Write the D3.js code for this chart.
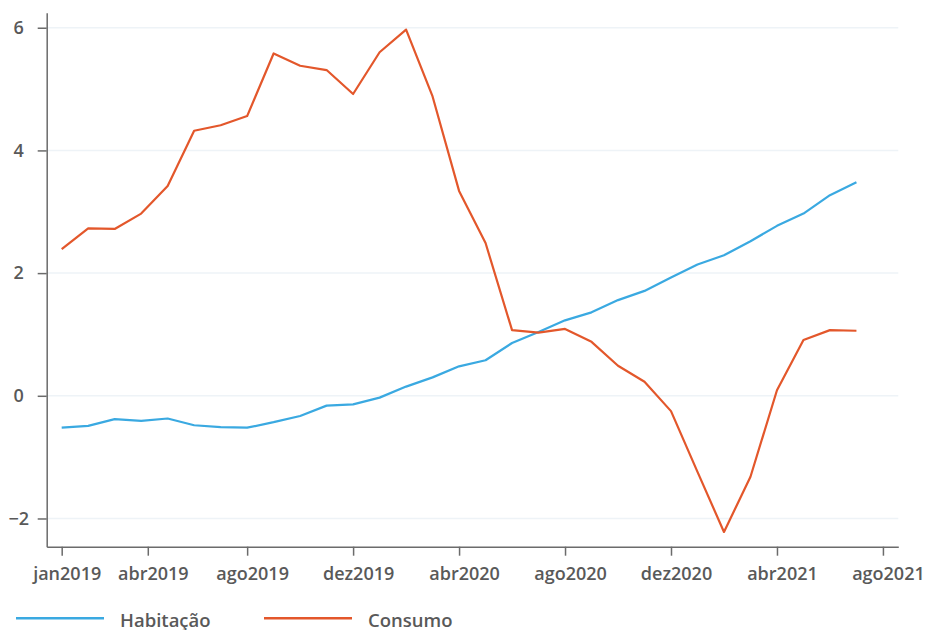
<!DOCTYPE html>
<html lang="pt">
<head>
<meta charset="utf-8">
<script src="https://cdn.jsdelivr.net/npm/d3@7"></script>
<style>
  html, body { margin: 0; padding: 0; background: #fff; }
  svg { display: block; font-family: "Open Sans", sans-serif; }
</style>
</head>
<body>
<svg id="chart" width="927" height="630"></svg>
<script>
// Monthly series, jan2019 .. jul2021
const months = [
  "jan2019","fev2019","mar2019","abr2019","mai2019","jun2019","jul2019","ago2019",
  "set2019","out2019","nov2019","dez2019","jan2020","fev2020","mar2020","abr2020",
  "mai2020","jun2020","jul2020","ago2020","set2020","out2020","nov2020","dez2020",
  "jan2021","fev2021","mar2021","abr2021","mai2021","jun2021","jul2021"
];
const habitacao = [
  -0.52, -0.49, -0.38, -0.41, -0.37, -0.48, -0.51, -0.52,
  -0.43, -0.33, -0.16, -0.14, -0.03, 0.15, 0.30, 0.48,
  0.58, 0.86, 1.04, 1.23, 1.36, 1.56, 1.71, 1.93,
  2.14, 2.29, 2.52, 2.77, 2.97, 3.27, 3.48
];
const consumo = [
  2.39, 2.73, 2.72, 2.97, 3.42, 4.32, 4.41, 4.56,
  5.58, 5.38, 5.31, 4.92, 5.60, 5.97, 4.88, 3.34,
  2.49, 1.07, 1.03, 1.09, 0.88, 0.49, 0.23, -0.25,
  -1.24, -2.22, -1.32, 0.09, 0.91, 1.07, 1.06
];
// tick positions in month-index units (0 = jan2019)
const xTickIndex = [0, 3.25, 7, 11, 15, 19, 23, 27, 31];
const xTickLabels = ["jan2019","abr2019","ago2019","dez2019","abr2020","ago2020","dez2020","abr2021","ago2021"];
const yTicks = [-2, 0, 2, 4, 6];
const seriesNames = ["Habitação", "Consumo"];
const seriesColors = ["#3aa9e1", "#e3572b"];

const svg = d3.select("#chart");
const plotLeft = 46.7, plotRight = 898.3, plotTop = 12.7, plotBottom = 546.7;

const x = d3.scaleLinear().domain([-0.566, 31.58]).range([plotLeft, plotRight]);
const y = d3.scaleLinear().domain([-2.46, 6.245]).range([plotBottom, plotTop]);

const textColor = "#595959";
const axisColor = "#6b6b6b";

// horizontal gridlines
svg.append("g")
  .selectAll("line")
  .data(yTicks)
  .join("line")
  .attr("x1", plotLeft).attr("x2", plotRight)
  .attr("y1", d => y(d)).attr("y2", d => y(d))
  .attr("stroke", "#eef3f7")
  .attr("stroke-width", 1.5);

// y axis
const yAxis = svg.append("g")
  .attr("transform", `translate(${plotLeft},0)`)
  .call(d3.axisLeft(y).tickValues(yTicks).tickSize(9).tickSizeOuter(0)
    .tickFormat(d => d < 0 ? "\u2212" + Math.abs(d) : String(d)));
yAxis.select(".domain").attr("stroke", axisColor).attr("stroke-width", 1.5);
yAxis.selectAll(".tick line").attr("stroke", axisColor).attr("stroke-width", 1.5);
yAxis.selectAll(".tick text")
  .attr("x", -28).attr("text-anchor", "middle")
  .attr("fill", textColor).attr("font-size", 18).attr("font-weight", 600)
  .attr("font-family", "Open Sans, sans-serif");

// x axis
const xAxis = svg.append("g")
  .attr("transform", `translate(0,${plotBottom})`)
  .call(d3.axisBottom(x).tickValues(xTickIndex).tickSize(9).tickSizeOuter(0)
    .tickFormat((d, i) => xTickLabels[i]));
xAxis.select(".domain").attr("stroke", axisColor).attr("stroke-width", 1.5);
xAxis.selectAll(".tick line").attr("stroke", axisColor).attr("stroke-width", 1.5);
xAxis.selectAll(".tick text")
  .attr("x", 5).attr("y", 21).attr("dy", "0.71em")
  .attr("text-anchor", "middle")
  .attr("fill", textColor).attr("font-size", 18).attr("font-weight", 600)
  .attr("font-family", "Open Sans, sans-serif");

// series lines
const line = d3.line().x((d, i) => x(i)).y(d => y(d));
[habitacao, consumo].forEach((s, k) => {
  svg.append("path")
    .datum(s)
    .attr("fill", "none")
    .attr("stroke", seriesColors[k])
    .attr("stroke-width", 2.2)
    .attr("stroke-linejoin", "round")
    .attr("d", line);
});

// legend
const legendX = [16, 264];
const legend = svg.append("g");
seriesNames.forEach((name, k) => {
  legend.append("line")
    .attr("x1", legendX[k]).attr("x2", legendX[k] + 88)
    .attr("y1", 618.3).attr("y2", 618.3)
    .attr("stroke", seriesColors[k]).attr("stroke-width", 2.5);
  legend.append("text")
    .attr("x", legendX[k] + 104).attr("y", 626.5)
    .attr("fill", textColor).attr("font-size", 18.5).attr("font-weight", 600)
    .text(name);
});
</script>
</body>
</html>
